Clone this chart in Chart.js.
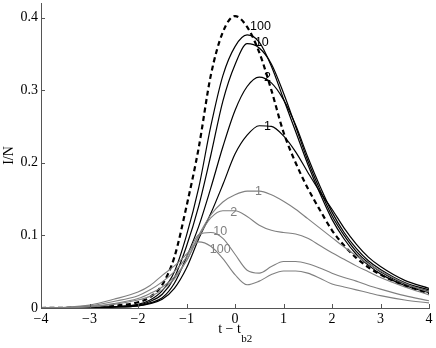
<!DOCTYPE html>
<html>
<head>
<meta charset="utf-8">
<script src="https://cdn.jsdelivr.net/npm/chart.js@4"></script>
<style>
  html, body { margin: 0; padding: 0; background: #fff; }
</style>
</head>
<body>
<canvas id="myChart" width="436" height="348"></canvas>
<script>
// Data

const tGrid = [-4, -3.5, -3, -2.5, -2, -1.75, -1.5, -1.25, -1, -0.75, -0.5, -0.25, 0,
  0.25, 0.5, 0.75, 1, 1.25, 1.5, 1.75, 2, 2.25, 2.5, 2.75, 3, 3.5, 4];

const dashedLimit = [0, 0.0003, 0.001, 0.003, 0.008, 0.015, 0.032, 0.07, 0.14, 0.22, 0.32, 0.38, 0.402,
  0.387, 0.352, 0.3, 0.242, 0.2, 0.165, 0.135, 0.107, 0.086, 0.069, 0.056, 0.046, 0.031, 0.02];

const black100 = [0, 0.0002, 0.0007, 0.002, 0.005, 0.011, 0.024, 0.05, 0.1, 0.165, 0.25, 0.32, 0.36,
  0.376, 0.366, 0.333, 0.288, 0.243, 0.198, 0.158, 0.122, 0.095, 0.074, 0.059, 0.047, 0.031, 0.021];
const black10 = [0, 0.0002, 0.0006, 0.0017, 0.004, 0.009, 0.019, 0.042, 0.085, 0.14, 0.21, 0.285, 0.335,
  0.364, 0.358, 0.336, 0.296, 0.25, 0.203, 0.163, 0.127, 0.1, 0.078, 0.062, 0.05, 0.033, 0.023];
const black2 = [0, 0.0001, 0.0005, 0.0014, 0.003, 0.007, 0.014, 0.034, 0.07, 0.112, 0.165, 0.222, 0.272,
  0.305, 0.318, 0.31, 0.287, 0.252, 0.208, 0.168, 0.132, 0.104, 0.082, 0.065, 0.053, 0.035, 0.025];
const black1 = [0, 0.0001, 0.0004, 0.0012, 0.003, 0.006, 0.012, 0.027, 0.055, 0.095, 0.13, 0.17, 0.212,
  0.238, 0.251, 0.25, 0.237, 0.215, 0.187, 0.16, 0.136, 0.11, 0.088, 0.07, 0.057, 0.038, 0.027];

const gray1 = [0, 0.0003, 0.0015, 0.005, 0.011, 0.016, 0.025, 0.04, 0.065, 0.1, 0.128, 0.146, 0.156,
  0.161, 0.161, 0.156, 0.147, 0.136, 0.123, 0.11, 0.097, 0.084, 0.072, 0.061, 0.051, 0.034, 0.022];
const gray2 = [0, 0.0005, 0.002, 0.006, 0.013, 0.02, 0.029, 0.043, 0.065, 0.098, 0.124, 0.134, 0.134,
  0.126, 0.114, 0.107, 0.104, 0.102, 0.096, 0.086, 0.076, 0.067, 0.058, 0.05, 0.042, 0.029, 0.018];
const gray10 = [0, 0.0007, 0.003, 0.009, 0.017, 0.025, 0.036, 0.05, 0.07, 0.101, 0.104, 0.096, 0.074,
  0.052, 0.048, 0.057, 0.064, 0.064, 0.061, 0.055, 0.048, 0.042, 0.037, 0.031, 0.026, 0.017, 0.01];
const gray100 = [0, 0.001, 0.004, 0.012, 0.022, 0.031, 0.045, 0.058, 0.074, 0.091, 0.085, 0.068, 0.046,
  0.032, 0.037, 0.046, 0.051, 0.051, 0.048, 0.041, 0.033, 0.029, 0.025, 0.021, 0.017, 0.011, 0.007];

const xTicks = [-4, -3, -2, -1, 0, 1, 2, 3, 4];
const yTicks = [0, 0.1, 0.2, 0.3, 0.4];

// Curve labels, placed in data units
const curveNotes = [
  { text: "100", t: 0.31, v: 0.387, color: "#000" },
  { text: "10", t: 0.41, v: 0.365, color: "#000" },
  { text: "2", t: 0.6, v: 0.318, color: "#000" },
  { text: "1", t: 0.6, v: 0.25, color: "#000" },
  { text: "1", t: 0.41, v: 0.161, color: "#808080" },
  { text: "2", t: -0.1, v: 0.132, color: "#808080" },
  { text: "10", t: -0.45, v: 0.105, color: "#808080" },
  { text: "100", t: -0.52, v: 0.081, color: "#808080" },
];

const pts = ys => tGrid.map((t, i) => ({ x: t, y: ys[i] }));

const grayLine = ys => ({
  data: pts(ys),
  borderColor: "#808080",
  borderWidth: 1.1,
  pointRadius: 0,
  cubicInterpolationMode: "monotone",
});
const blackLine = ys => ({
  data: pts(ys),
  borderColor: "#000",
  borderWidth: 1.2,
  pointRadius: 0,
  cubicInterpolationMode: "monotone",
});

const serif = '"Liberation Serif", "Times New Roman", serif';

// Plugins: inward ticks, curve labels, axis titles

const extras = {
  id: "extras",
  afterDraw(chart) {
    const ctx = chart.ctx;
    const xs = chart.scales.x, ys = chart.scales.y;
    const { left, top, bottom } = chart.chartArea;
    ctx.save();
    ctx.strokeStyle = "#555";
    ctx.lineWidth = 1;
    ctx.beginPath();
    xTicks.forEach(v => {
      const px = Math.round(xs.getPixelForValue(v)) + 0.5;
      ctx.moveTo(px, bottom);
      ctx.lineTo(px, bottom - 4);
    });
    yTicks.forEach(v => {
      const py = Math.round(ys.getPixelForValue(v)) + 0.5;
      ctx.moveTo(left, py);
      ctx.lineTo(left + 4, py);
    });
    ctx.stroke();

    ctx.font = '12.5px "Liberation Sans", Arial, sans-serif';
    ctx.textAlign = "left";
    ctx.textBaseline = "middle";
    curveNotes.forEach(n => {
      ctx.fillStyle = n.color;
      ctx.fillText(n.text, xs.getPixelForValue(n.t), ys.getPixelForValue(n.v));
    });

    // y title
    ctx.fillStyle = "#000";
    ctx.font = "14px " + serif;
    ctx.translate(9, (top + bottom) / 2);
    ctx.rotate(-Math.PI / 2);
    ctx.textAlign = "center";
    ctx.fillText("I/N", 0, 0);
    ctx.setTransform(1, 0, 0, 1, 0, 0);

    // x title with subscript
    const main = "t \u2212 t";
    ctx.font = "14px " + serif;
    const w1 = ctx.measureText(main).width;
    ctx.font = "11px " + serif;
    const w2 = ctx.measureText("b2").width;
    const x0 = xs.getPixelForValue(0) - (w1 + w2) / 2;
    ctx.textAlign = "left";
    ctx.textBaseline = "alphabetic";
    ctx.font = "14px " + serif;
    ctx.fillText(main, x0, 333);
    ctx.font = "11px " + serif;
    ctx.fillText("b2", x0 + w1 + 0.5, 342);
    ctx.restore();
  },
};

// Chart declaration

const ctx = document.getElementById("myChart").getContext("2d");
const chart = new Chart(ctx, {
  type: "line",
  data: {
    datasets: [
      grayLine(gray1),
      grayLine(gray2),
      grayLine(gray10),
      grayLine(gray100),
      blackLine(black1),
      blackLine(black2),
      blackLine(black10),
      blackLine(black100),
      {
        data: pts(dashedLimit),
        borderColor: "#000",
        borderWidth: 2.2,
        borderDash: [5, 3.5],
        pointRadius: 0,
        cubicInterpolationMode: "monotone",
      },
    ],
  },
  options: {
    responsive: false,
    animation: false,
    layout: { padding: { left: 0, right: 7, top: 3, bottom: 0 } },
    plugins: { legend: { display: false }, tooltip: { enabled: false } },
    scales: {
      x: {
        type: "linear",
        min: -4,
        max: 4,
        grid: { display: false, drawTicks: false, tickLength: 0 },
        border: { color: "#555", width: 1 },
        afterBuildTicks: s => { s.ticks = xTicks.map(v => ({ value: v })); },
        afterFit: s => { s.height = 40; s.paddingLeft = 0; s.paddingRight = 0; },
        ticks: {
          color: "#000",
          padding: 3,
          maxRotation: 0,
          font: { family: serif, size: 14 },
          callback: v => (v < 0 ? "\u2212" + Math.abs(v) : String(v)),
        },
      },
      y: {
        min: 0,
        max: 0.42,
        grid: { display: false, drawTicks: false, tickLength: 0 },
        border: { color: "#555", width: 1 },
        afterBuildTicks: s => { s.ticks = yTicks.map(v => ({ value: v })); },
        afterFit: s => { s.width = 41; s.paddingTop = 0; s.paddingBottom = 0; },
        ticks: {
          color: "#000",
          padding: 3,
          font: { family: serif, size: 14 },
          callback: v => (v === 0 ? "0" : v.toFixed(1)),
        },
      },
    },
  },
  plugins: [extras],
});
</script>
</body>
</html>
